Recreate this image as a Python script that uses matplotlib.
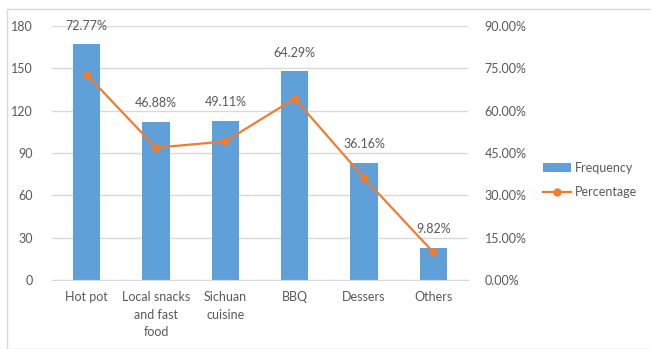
import matplotlib
matplotlib.use("Agg")
import matplotlib.pyplot as plt
from matplotlib.patches import Rectangle
import numpy as np

plt.rcParams['font.family'] = ['Lato', 'DejaVu Sans']

categories = ["Hot pot", "Local snacks\nand fast\nfood", "Sichuan\ncuisine", "BBQ", "Dessers", "Others"]
frequency = [167, 112, 113, 148, 83, 23]
percentage = [72.77, 46.88, 49.11, 64.29, 36.16, 9.82]

bar_color = '#5FA0D8'
line_color = '#ED7D31'
text_color = '#595959'
grid_color = '#D9D9D9'

fig = plt.figure(figsize=(6.51, 3.49), dpi=100)
ax = fig.add_axes([52 / 651, 1 - 280 / 349, 416 / 651, 254 / 349])
ax2 = ax.twinx()

# outer frame
fig.patches.append(Rectangle((7 / 651, 0), 1, 1 - 9 / 349, transform=fig.transFigure,
                             fill=False, edgecolor=grid_color, linewidth=1))

x = np.arange(len(categories))
bars = ax.bar(x, frequency, width=0.39, color=bar_color, label='Frequency', zorder=2)
ax.set_xlim(-0.5, len(categories) - 0.5)
ax.set_ylim(0, 180)
ax.set_yticks(range(0, 181, 30))
ax.yaxis.grid(True, color=grid_color, linewidth=1)
ax.set_axisbelow(True)
ax.set_xticks(x)
ax.set_xticklabels(categories, fontsize=9, color=text_color, linespacing=1.55)
ax.tick_params(axis='both', length=0, labelsize=9, labelcolor=text_color)
ax.tick_params(axis='y', pad=14)
ax.tick_params(axis='x', pad=8)
for s in ax.spines.values():
    s.set_visible(False)
ax.spines['bottom'].set_visible(True)
ax.spines['bottom'].set_color(grid_color)

line, = ax2.plot(x, percentage, color=line_color, marker='o', markersize=5,
                 linewidth=1.6, label='Percentage', zorder=3)
ax2.set_ylim(0, 90)
ax2.set_yticks(range(0, 91, 15))
ax2.set_yticklabels([f"{v:.2f}%" for v in range(0, 91, 15)])
ax2.tick_params(axis='y', length=0, labelsize=9, labelcolor=text_color, pad=12)
for s in ax2.spines.values():
    s.set_visible(False)

for xi, f, p in zip(x, frequency, percentage):
    ax.annotate(f"{p:.2f}%", (xi, f), xytext=(0, 9), textcoords='offset points',
                ha='center', va='bottom', fontsize=9, color=text_color)

fig.legend(handles=[bars, line], labels=['Frequency', 'Percentage'],
           loc='center left', bbox_to_anchor=(532 / 651, 1 - 180 / 349),
           frameon=False, fontsize=9, labelcolor=text_color,
           handlelength=2.2, labelspacing=1.0, handletextpad=0.3)

fig.savefig("out.png", dpi=100)
